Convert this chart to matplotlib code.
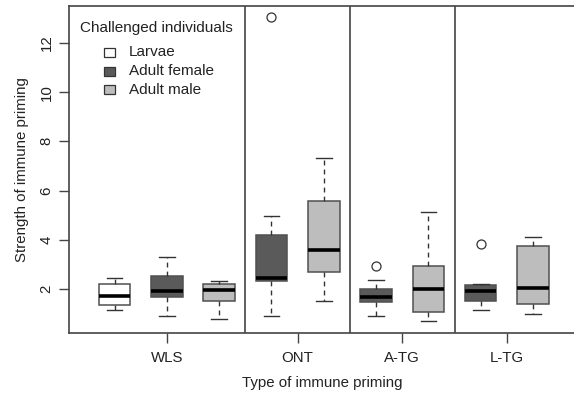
import matplotlib
matplotlib.use("Agg")
import matplotlib.pyplot as plt
from matplotlib.patches import Rectangle

plt.rcParams['font.family'] = ['Liberation Sans', 'DejaVu Sans']

# Data
groups = ["WLS", "ONT", "A-TG", "L-TG"]
group_ticks = [2, 4.5, 6.5, 8.5]
separators = [3.5, 5.5, 7.5]
box_positions = [1, 2, 3, 4, 5, 6, 7, 8, 9]
box_kind = ["Larvae", "Adult female", "Adult male",
            "Adult female", "Adult male",
            "Adult female", "Adult male",
            "Adult female", "Adult male"]
whislo = [1.13, 0.91, 0.78, 0.90, 1.53, 0.89, 0.69, 1.15, 0.98]
q1     = [1.36, 1.66, 1.53, 2.33, 2.68, 1.46, 1.05, 1.50, 1.40]
med    = [1.73, 1.93, 1.96, 2.46, 3.59, 1.66, 2.00, 1.91, 2.05]
q3     = [2.22, 2.53, 2.19, 4.21, 5.58, 2.00, 2.93, 2.15, 3.74]
whishi = [2.46, 3.29, 2.33, 4.97, 7.31, 2.37, 5.12, 2.20, 4.10]
fliers = [[], [], [], [13.04], [], [2.95], [], [3.82], []]

legend_labels = ["Larvae", "Adult female", "Adult male"]
colors = {"Larvae": "#ffffff", "Adult female": "#5a5a5a", "Adult male": "#bdbdbd"}

W, H = 574, 394
fig = plt.figure(figsize=(W / 100, H / 100), dpi=100)
ax = fig.add_axes([69 / W, 1 - 333 / H, (576 - 69) / W, (333 - 6) / H])

stats = []
for i in range(len(box_positions)):
    stats.append(dict(whislo=whislo[i], q1=q1[i], med=med[i], q3=q3[i],
                      whishi=whishi[i], fliers=fliers[i]))

edge = "#505050"
bp = ax.bxp(stats, positions=box_positions, widths=0.6, patch_artist=True,
            boxprops=dict(edgecolor=edge, linewidth=1.1),
            medianprops=dict(color="black", linewidth=2.6, solid_capstyle="butt"),
            whiskerprops=dict(color="#333333", linewidth=1.0, linestyle=(0, (3.5, 3))),
            capprops=dict(color="#333333", linewidth=1.0),
            capwidths=0.3,
            flierprops=dict(marker="o", markerfacecolor="none",
                            markeredgecolor="#333333", markersize=6.5,
                            markeredgewidth=0.9),
            manage_ticks=False)
for patch, kind in zip(bp["boxes"], box_kind):
    patch.set_facecolor(colors[kind])

for s in separators:
    ax.axvline(s, color="#444444", linewidth=1.2)

ax.set_xlim(0.13, 9.82)
ax.set_ylim(0.211, 13.5)
ax.set_xticks(group_ticks)
ax.set_xticklabels(groups, fontsize=10.8)
ax.set_yticks([2, 4, 6, 8, 10, 12])
ax.set_yticklabels(["2", "4", "6", "8", "10", "12"], fontsize=10.8,
                   rotation=90, va="center")
ax.tick_params(axis="both", length=7, width=1.0, color="#444444", pad=4,
               labelcolor="#222222")
ax.tick_params(axis="x", pad=6)
for sp in ax.spines.values():
    sp.set_color("#444444")
    sp.set_linewidth(1.2)

ax.set_ylabel("Strength of immune priming", fontsize=10.8, color="#222222", labelpad=8)
ax.set_xlabel("Type of immune priming", fontsize=10.8, color="#222222", labelpad=8)

# Legend (manual, in pixel coordinates)
def px(x, y):
    return x / W, 1 - y / H

fig.text(*px(80, 28), "Challenged individuals", fontsize=11, va="center",
         ha="left", color="#222222")
for j, lab in enumerate(legend_labels):
    yc = 52.5 + j * 18.5
    x0, y0 = px(104, yc + 4.5)
    fig.patches.append(Rectangle((x0, y0), 11 / W, 9 / H, transform=fig.transFigure,
                                 facecolor=colors[lab], edgecolor="#333333",
                                 linewidth=0.9))
    fig.text(*px(129, yc), lab, fontsize=11, va="center", ha="left", color="#222222")

fig.savefig("out.png", dpi=100)
